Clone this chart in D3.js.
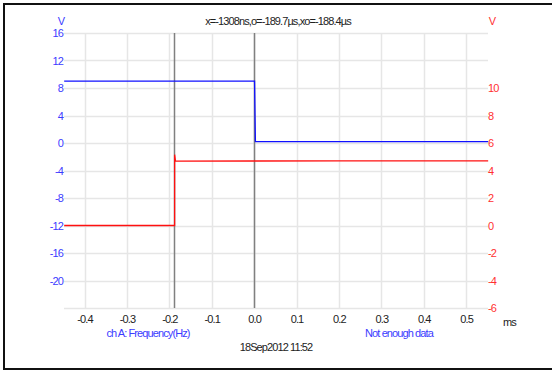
<!DOCTYPE html>
<html><head><meta charset="utf-8">
<script src="https://cdn.jsdelivr.net/npm/d3@7"></script>
<style>
html,body{margin:0;padding:0;background:#fff;}
svg text{font-family:"Liberation Sans",Arial,sans-serif;font-size:11px;letter-spacing:-0.9px;}
</style></head>
<body><svg id="c" width="552" height="372"></svg>
<script>
// Data
const xTicks = [-0.4,-0.3,-0.2,-0.1,0.0,0.1,0.2,0.3,0.4,0.5];
const leftTicks = [16,12,8,4,0,-4,-8,-12,-16,-20];
const rightTicks = [10,8,6,4,2,0,-2,-4,-6];
const blueT = [-0.448, 0.001, 0.003, 0.552];
const blueV = [9.0, 9.0, 0.2, 0.2];
const redT = [-0.448, -0.1875, -0.1875, -0.1855, 0.2, 0.552];
const redV = [0, 0, 5.15, 4.68, 4.7, 4.7];
const cursors = [-0.1897, 0.0];
const header = "x=-1308ns,o=-189.7µs,xo=-188.4µs";
const dateText = "18Sep2012 11:52";
const leftLegend = "ch A: Frequency(Hz)";
const rightLegend = "Not enough data";

const svg = d3.select("#c");
const L=64, R=488, T=33, B=308;
const x = d3.scaleLinear().domain([-0.4484,0.5516]).range([L,R]);
const yL = d3.scaleLinear().domain([-24,16]).range([B,T]);
const yR = d3.scaleLinear().domain([-6,14]).range([B,T]);
const hy = f => d => f(d).replace("\u2212","-");

// border
svg.append("rect").attr("x",4).attr("y",4).attr("width",560).attr("height",365)
  .attr("fill","none").attr("stroke","#111").attr("stroke-width",2);

const BLUE="#1010ff", RED="#ff1010", BTXT="#3b3bff", RTXT="#ff3030";

// grid
const g = svg.append("g");
g.selectAll(".hg").data(leftTicks.concat([-24])).join("line")
  .attr("x1",L).attr("x2",R).attr("y1",d=>Math.round(yL(d))+0.5).attr("y2",d=>Math.round(yL(d))+0.5)
  .attr("stroke","#e6e6e6").attr("stroke-width",1.5);
g.selectAll(".vg").data(xTicks).join("line")
  .attr("y1",T).attr("y2",B).attr("x1",d=>Math.round(x(d))+0.5).attr("x2",d=>Math.round(x(d))+0.5)
  .attr("stroke","#e6e6e6").attr("stroke-width",1.5);

// axes
const axL = svg.append("g").attr("transform",`translate(${L},0)`)
  .call(d3.axisLeft(yL).tickValues(leftTicks).tickSize(0).tickPadding(1).tickFormat(hy(d3.format("d"))));
axL.select(".domain").remove();
axL.selectAll("text").attr("fill",BTXT).style("font-family","Liberation Sans").style("font-size","11px");

const axR = svg.append("g").attr("transform",`translate(${R},0)`)
  .call(d3.axisRight(yR).tickValues(rightTicks).tickSize(0).tickPadding(0).tickFormat(hy(d3.format("d"))));
axR.select(".domain").remove();
axR.selectAll("text").attr("fill",RTXT).style("font-family","Liberation Sans").style("font-size","11px");

const axB = svg.append("g").attr("transform",`translate(0,${B})`)
  .call(d3.axisBottom(x).tickValues(xTicks).tickSize(0).tickPadding(7).tickFormat(hy(d3.format(".1f"))));
axB.select(".domain").remove();
axB.selectAll("text").attr("fill","#222").style("font-family","Liberation Sans").style("font-size","11px");

// cursors
svg.selectAll(".cur").data(cursors).join("line")
  .attr("x1",d=>Math.round(x(d))+0.5).attr("x2",d=>Math.round(x(d))+0.5).attr("y1",T).attr("y2",B)
  .attr("stroke","#808080").attr("stroke-width",1.5);

// series
const lineB = d3.line().x(d=>x(d[0])).y(d=>yL(d[1]));
const lineR = d3.line().x(d=>x(d[0])).y(d=>yR(d[1]));
svg.append("path").datum(blueT.map((t,i)=>[t,blueV[i]])).attr("d",lineB)
  .attr("fill","none").attr("stroke",BLUE).attr("stroke-width",1.3);
svg.append("path").datum(redT.map((t,i)=>[t,redV[i]])).attr("d",lineR)
  .attr("fill","none").attr("stroke",RED).attr("stroke-width",1.3);

// texts
svg.append("text").attr("x",61).attr("y",25).attr("text-anchor","middle").attr("fill",BTXT).text("V");
svg.append("text").attr("x",492).attr("y",25).attr("text-anchor","middle").attr("fill",RTXT).text("V");
svg.append("text").attr("x",278).attr("y",25).attr("text-anchor","middle").attr("fill","#222").text(header);
svg.append("text").attr("x",503).attr("y",326).attr("fill","#222").text("ms");
svg.append("text").attr("x",148).attr("y",337).attr("text-anchor","middle").attr("fill",BTXT).text(leftLegend);
svg.append("text").attr("x",399).attr("y",337).attr("text-anchor","middle").attr("fill",BTXT).text(rightLegend);
svg.append("text").attr("x",276).attr("y",351).attr("text-anchor","middle").attr("fill","#222").text(dateText);
</script></body></html>
